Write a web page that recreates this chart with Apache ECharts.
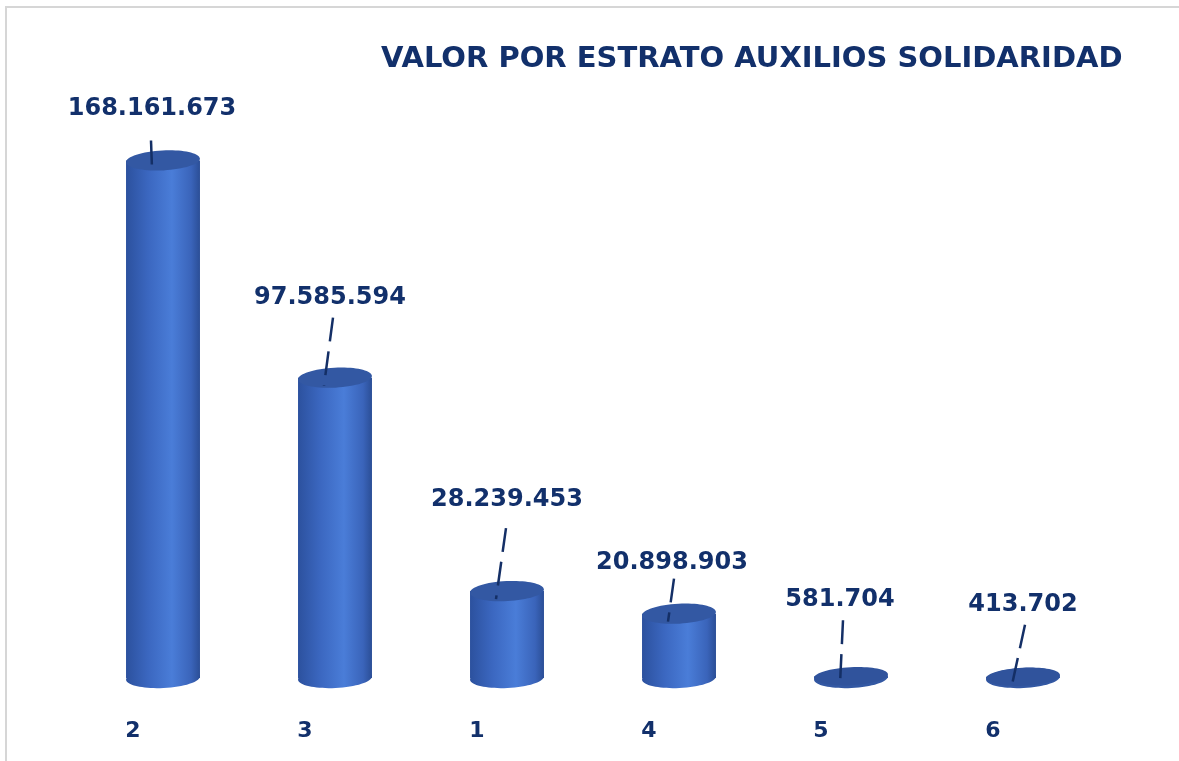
<!DOCTYPE html>
<html>
<head>
<meta charset="utf-8">
<script src="https://cdn.jsdelivr.net/npm/echarts@6/dist/echarts.min.js"></script>
<style>
html,body{margin:0;padding:0;background:#fff;}
#chart{width:1179px;height:761px;}
</style>
</head>
<body>
<div id="chart"></div>
<script>
// ---- data ----
const titleText = 'VALOR POR ESTRATO AUXILIOS SOLIDARIDAD';
const categories = ['2', '3', '1', '4', '5', '6'];
const values = [168161673, 97585594, 28239453, 20898903, 581704, 413702];

// ---- label layout (pixel offsets from the top of each cylinder) ----
const labelShift = [[-11, -52], [-5, -80], [0, -91], [-7, -51], [-11, -76], [0, -72]];
const leaderStart = [[-1, 32], [3, 20], [-1, 28], [2, 16], [3, 20], [2, 20]];

const navy = '#12306b';
function fmt(v) { return String(v).replace(/\B(?=(\d{3})+(?!\d))/g, '.'); }

const chart = echarts.init(document.getElementById('chart'));

function bodyGrad() {
  return new echarts.graphic.LinearGradient(0, 0, 1, 0, [
    { offset: 0, color: '#2c519e' },
    { offset: 0.3, color: '#3b67c0' },
    { offset: 0.62, color: '#4a7dd8' },
    { offset: 0.88, color: '#3a64ba' },
    { offset: 1, color: '#2b4e96' }
  ]);
}

const tilt = 0.05;

chart.setOption({
  animation: false,
  backgroundColor: '#ffffff',
  title: {
    text: titleText,
    left: 376,
    top: 40,
    textStyle: { fontFamily: 'DejaVu Sans', fontWeight: 'bold', fontSize: 29, color: navy }
  },
  graphic: [{
    type: 'rect', silent: true,
    shape: { x: 6, y: 7, width: 1250, height: 800 },
    style: { fill: null, stroke: '#d6d6d6', lineWidth: 2 }
  }],
  grid: { left: 77, right: 70, top: 124, bottom: 83 },
  xAxis: {
    type: 'category',
    data: categories,
    axisLine: { show: false },
    axisTick: { show: false },
    axisLabel: {
      margin: 42,
      padding: [0, 60, 0, 0],
      fontFamily: 'DejaVu Sans', fontWeight: 'bold', fontSize: 22, color: navy
    }
  },
  yAxis: {
    type: 'value', min: 0, max: 180000000, show: false,
    splitLine: { show: false }
  },
  series: [{
    type: 'custom',
    data: values.map((v, i) => [i, v]),
    renderItem: function (params, api) {
      const i = params.dataIndex;
      const v = api.value(1);
      const top = api.coord([api.value(0), v]);
      const base = api.coord([api.value(0), 0]);
      const band = api.size([1, 0])[0];
      const rx = band * 0.215;
      const ry = 10;
      const cx = top[0];
      const lx = cx + labelShift[i][0];
      const ly = top[1] + labelShift[i][1];
      const flat = base[1] - top[1] < 4;
      const children = [
        { type: 'ellipse', shape: { cx: cx, cy: base[1], rx: rx, ry: ry },
          rotation: tilt, originX: cx, originY: base[1], style: { fill: flat ? '#3358a3' : bodyGrad() } },
        { type: 'rect', shape: { x: cx - rx, y: top[1], width: 2 * rx, height: Math.max(0, base[1] - top[1]) },
          style: { fill: flat ? '#3358a3' : bodyGrad() } },
        { type: 'ellipse', shape: { cx: cx, cy: top[1], rx: rx, ry: (flat ? 9 : ry) },
          rotation: tilt, originX: cx, originY: top[1],
          style: { fill: flat ? '#30539c' : '#3358a3' } },
        { type: 'line',
          shape: { x1: lx + leaderStart[i][0], y1: ly + leaderStart[i][1], x2: cx - 11, y2: top[1] + 8 },
          style: { stroke: '#142f66', lineWidth: 2.5, lineDash: [24, 10] } },
        { type: 'text', x: lx, y: ly,
          style: { text: fmt(v), fill: navy, font: 'bold 24px "DejaVu Sans"',
                   align: 'center', verticalAlign: 'middle', textAlign: 'center', textVerticalAlign: 'middle' } }
      ];
      return { type: 'group', children: children };
    }
  }]
});
</script>
</body>
</html>
